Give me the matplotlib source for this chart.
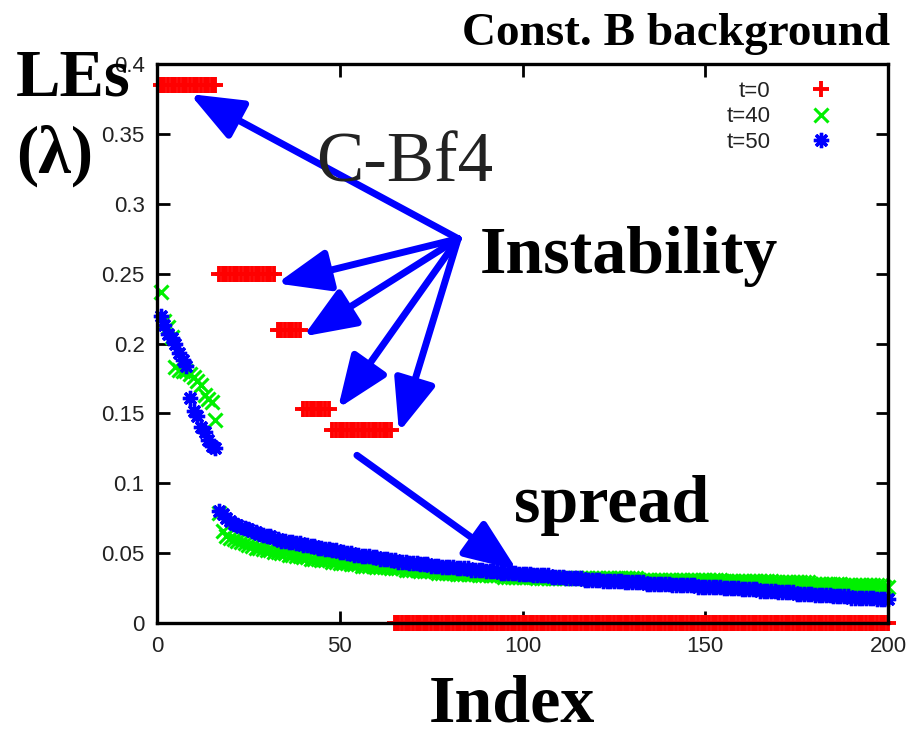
import matplotlib
matplotlib.use("Agg")
import matplotlib.pyplot as plt
import numpy as np

# eigenvalue index (1..200)
index = np.arange(1, 201)

# t=0: degenerate levels and how many exponents sit on each
red_levels = [0.385, 0.25, 0.21, 0.153, 0.138, 0.0]
red_counts = [16, 16, 7, 8, 17, 136]

# t=40
green_vals = [
    0.237, 0.216, 0.212, 0.205, 0.183, 0.181, 0.180, 0.180, 0.178, 0.176,
    0.173, 0.170, 0.163, 0.160, 0.158, 0.145,
    0.079, 0.066, 0.062, 0.061, 0.060, 0.059, 0.058, 0.057, 0.056, 0.055,
    0.054, 0.054, 0.053, 0.052, 0.052, 0.051, 0.051, 0.050, 0.050, 0.049,
    0.049, 0.048, 0.048, 0.047, 0.047, 0.046, 0.046, 0.046, 0.045, 0.045,
    0.045, 0.044, 0.044, 0.043, 0.043, 0.043, 0.042, 0.042, 0.042, 0.041,
    0.041, 0.041, 0.041, 0.040, 0.040, 0.040, 0.040, 0.039, 0.039, 0.039,
    0.039, 0.038, 0.038, 0.038, 0.038, 0.037, 0.037, 0.037, 0.037, 0.037,
    0.036, 0.036, 0.036, 0.036, 0.036, 0.035, 0.035, 0.035, 0.035, 0.035,
    0.035, 0.034, 0.034, 0.034, 0.034, 0.034, 0.034, 0.034, 0.033, 0.033,
    0.033, 0.033, 0.033, 0.033, 0.033, 0.033, 0.033, 0.032, 0.032, 0.032,
    0.032, 0.032, 0.032, 0.032, 0.032, 0.032, 0.032, 0.032, 0.032, 0.032,
    0.032, 0.032, 0.032, 0.032, 0.032, 0.032, 0.032, 0.032, 0.032, 0.032,
    0.032, 0.032, 0.032, 0.032, 0.032, 0.031, 0.031, 0.031, 0.031, 0.031,
    0.031, 0.031, 0.031, 0.031, 0.031, 0.031, 0.031, 0.031, 0.031, 0.031,
    0.031, 0.031, 0.031, 0.031, 0.031, 0.031, 0.031, 0.031, 0.030, 0.030,
    0.030, 0.030, 0.030, 0.030, 0.030, 0.030, 0.030, 0.030, 0.030, 0.030,
    0.030, 0.030, 0.029, 0.029, 0.029, 0.029, 0.029, 0.029, 0.029, 0.029,
    0.029, 0.029, 0.028, 0.028, 0.028, 0.028, 0.028, 0.028, 0.028, 0.028,
    0.028, 0.027, 0.027, 0.027, 0.027, 0.027, 0.027, 0.027, 0.027, 0.027,
    0.027, 0.027, 0.026, 0.026,
]

# t=50
blue_vals = [
    0.220, 0.213, 0.207, 0.204, 0.200, 0.193, 0.188, 0.184, 0.161, 0.152,
    0.148, 0.140, 0.137, 0.131, 0.127, 0.125,
    0.080, 0.078, 0.075, 0.073, 0.071, 0.070, 0.069, 0.068, 0.067, 0.066,
    0.065, 0.064, 0.063, 0.062, 0.062, 0.061, 0.060, 0.059, 0.059, 0.058,
    0.058, 0.057, 0.057, 0.056, 0.056, 0.055, 0.055, 0.054, 0.054, 0.053,
    0.053, 0.052, 0.052, 0.051, 0.051, 0.050, 0.050, 0.049, 0.049, 0.048,
    0.048, 0.048, 0.047, 0.047, 0.046, 0.046, 0.046, 0.045, 0.045, 0.044,
    0.044, 0.044, 0.043, 0.043, 0.043, 0.042, 0.042, 0.042, 0.041, 0.041,
    0.041, 0.040, 0.040, 0.040, 0.040, 0.039, 0.039, 0.039, 0.039, 0.038,
    0.038, 0.038, 0.038, 0.037, 0.037, 0.037, 0.037, 0.036, 0.036, 0.036,
    0.036, 0.036, 0.035, 0.035, 0.035, 0.035, 0.034, 0.034, 0.034, 0.034,
    0.034, 0.033, 0.033, 0.033, 0.033, 0.032, 0.032, 0.032, 0.032, 0.032,
    0.031, 0.031, 0.031, 0.031, 0.031, 0.030, 0.030, 0.030, 0.030, 0.030,
    0.030, 0.029, 0.029, 0.029, 0.029, 0.029, 0.029, 0.028, 0.028, 0.028,
    0.028, 0.028, 0.028, 0.028, 0.027, 0.027, 0.027, 0.027, 0.027, 0.027,
    0.027, 0.026, 0.026, 0.026, 0.026, 0.026, 0.026, 0.026, 0.025, 0.025,
    0.025, 0.025, 0.025, 0.024, 0.024, 0.024, 0.024, 0.024, 0.023, 0.023,
    0.023, 0.023, 0.023, 0.022, 0.022, 0.022, 0.022, 0.022, 0.021, 0.021,
    0.021, 0.021, 0.021, 0.020, 0.020, 0.020, 0.020, 0.020, 0.019, 0.019,
    0.019, 0.019, 0.019, 0.018, 0.018, 0.018, 0.018, 0.018, 0.018, 0.018,
    0.017, 0.017, 0.017, 0.017,
]

legend_labels = ['t=0', 't=40', 't=50']
x_ticks = [0, 50, 100, 150, 200]
y_ticks = [0, 0.05, 0.1, 0.15, 0.2, 0.25, 0.3, 0.35, 0.4]
y_tick_labels = ['0', '0.05', '0.1', '0.15', '0.2', '0.25', '0.3', '0.35', '0.4']

# annotation arrows (data coords): fan from "Instability", one for "spread"
instab_hub = (82.4, 0.275)
instab_tips = [(9.0, 0.3785), (32.8, 0.243), (40.0, 0.205), (49.5, 0.1535), (66.2, 0.1365)]
spread_from = (54.7, 0.120)
spread_to = (98.5, 0.0378)

W, H = 913, 737
SERIF = 'Liberation Serif'
SANS = 'Liberation Sans'

fig = plt.figure(figsize=(W / 100, H / 100), dpi=100)
ax = fig.add_axes([157 / W, (H - 623) / H, (888 - 157) / W, (623 - 64) / H])

red_vals = np.repeat(red_levels, red_counts)
ax.plot(index, red_vals, ls='none', marker='+', ms=11, mew=2.8,
        color='#ff0000', clip_on=False, label=legend_labels[0])
ax.plot(index, green_vals, ls='none', marker='x', ms=10, mew=2.2,
        color='#00f000', clip_on=False, label=legend_labels[1])
ax.plot(index, blue_vals, ls='none', marker=(8, 2, 0), ms=11, mew=2.4,
        color='#0000ff', clip_on=False, label=legend_labels[2])

ax.set_xlim(0, 200)
ax.set_ylim(0, 0.4)
ax.set_xticks(x_ticks)
ax.set_yticks(y_ticks)
ax.set_yticklabels(y_tick_labels)
ax.tick_params(direction='in', length=9, width=2, top=True, right=True,
               labelsize=16, pad=9, labelcolor='#222222')
for lab in ax.get_xticklabels() + ax.get_yticklabels():
    lab.set_fontfamily(SANS)
for sp in ax.spines.values():
    sp.set_linewidth(2.4)

leg = ax.legend(loc='upper right', bbox_to_anchor=(837 / W, 1 - 81 / H),
                bbox_transform=fig.transFigure, frameon=False, markerfirst=False,
                numpoints=1, handlelength=1.4, handletextpad=1.6,
                labelspacing=0.2, borderpad=0, borderaxespad=0,
                prop={'family': SANS, 'size': 16})
for t in leg.get_texts():
    t.set_color('#222222')

# arrows
arrow_kw = dict(arrowstyle='-|>,head_length=0.8,head_width=0.32', mutation_scale=40,
                lw=5, color='#0000ff', shrinkA=0, shrinkB=0)
for tip in instab_tips:
    ax.annotate('', xy=tip, xytext=instab_hub, arrowprops=arrow_kw,
                annotation_clip=False, zorder=6)
ax.annotate('', xy=spread_to, xytext=spread_from, arrowprops=arrow_kw,
            annotation_clip=False, zorder=6)

# text labels (figure pixel positions, baseline)
def ftext(x, y, s, **kw):
    fig.text(x / W, 1 - y / H, s, va='baseline', **kw)

ftext(890, 45, 'Const. B background', ha='right', family=SERIF,
      weight='bold', size=34)
ftext(16, 95, 'LEs', ha='left', family=SERIF, weight='bold', size=48, zorder=10)
ftext(16, 173, '(λ)', ha='left', family=SERIF, weight='bold', size=48)
ftext(316, 182, 'C-Bf4', ha='left', family=SERIF, size=51, color='#222222', zorder=1)
ftext(480, 273, 'Instability', ha='left', family=SERIF, weight='bold', size=49)
ftext(514, 522, 'spread', ha='left', family=SERIF, weight='bold', size=49)
ftext(512, 721, 'Index', ha='center', family=SERIF, weight='bold', size=49)

fig.savefig('out.png', dpi=100)
